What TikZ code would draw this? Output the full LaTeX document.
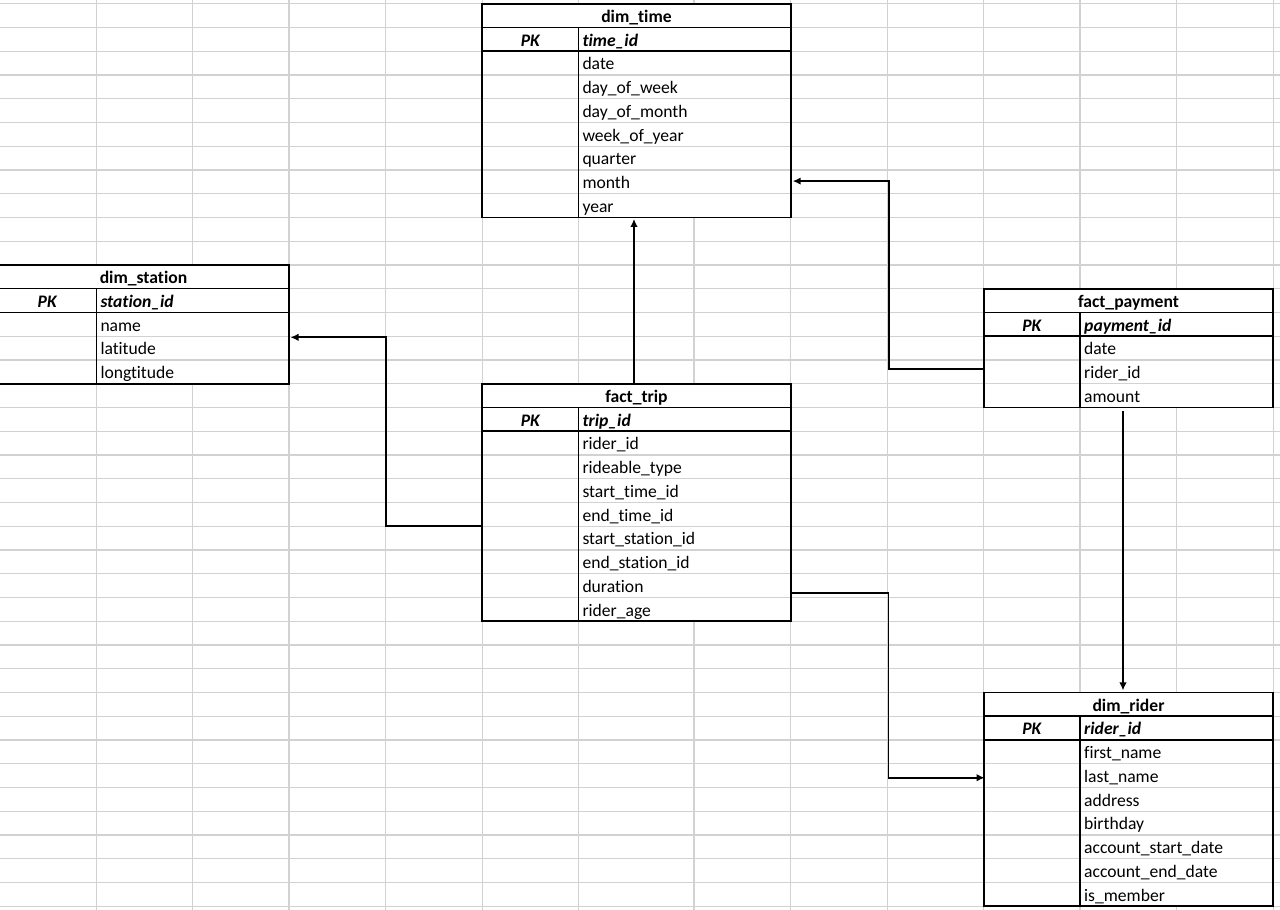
\documentclass[tikz,border=0pt]{standalone}
\usepackage{fontspec}
\setmainfont{Carlito}[Ligatures={NoCommon}]
\usetikzlibrary{arrows.meta}
\tikzset{
  gridln/.style={draw=gray!35, line width=1.3pt},
  tblbox/.style={draw=black, line width=1.9pt, fill=white, inner sep=0pt, outer sep=0pt, anchor=north west},
  tline/.style={black, line width=1.5pt},
  ttl/.style={anchor=base, inner sep=0pt, font=\fontsize{17.6}{20}\selectfont\bfseries},
  pkl/.style={anchor=base, inner sep=0pt, font=\fontsize{17.6}{20}\selectfont\bfseries\itshape},
  pkf/.style={anchor=base west, inner sep=0pt, font=\fontsize{17.6}{20}\selectfont\bfseries\itshape},
  fld/.style={anchor=base west, inner sep=0pt, font=\fontsize{17.6}{20}\selectfont},
  conn/.style={black, line width=1.9pt, -{Latex[length=8pt,width=7.5pt]}},
}
% #1 name, #2 x0, #3 x divider, #4 x1, #5 top row, #6 title, #7 key, #8 fields, #9 number of fields
\newcommand\ertab[9]{%
  \pgfmathsetmacro\ERya{3.7+23.75*#5}%
  \pgfmathsetmacro\ERyh{\ERya+23.75}%
  \pgfmathsetmacro\ERyp{\ERya+47.5}%
  \pgfmathsetmacro\ERyb{\ERya+23.75*(2+#9)}%
  \pgfmathsetmacro\ERw{#4-(#2)}%
  \pgfmathsetmacro\ERh{\ERyb-\ERya}%
  \pgfmathtruncatemacro\ERn{#9-1}%
  \node[tblbox, minimum width=\ERw pt, minimum height=\ERh pt] (#1) at (#2,\ERya) {};
  \foreach \k in {1,...,\ERn} \draw[gridln] (#2+1,{\ERyp+23.75*\k}) -- (#4-1,{\ERyp+23.75*\k});
  \draw[tline] (#2,\ERyh) -- (#4,\ERyh) (#2,\ERyp) -- (#4,\ERyp) (#3,\ERyh) -- (#3,\ERyb);
  \node[ttl] (#1-title) at ({(#2+#4)/2},\ERyh-5) {#6};
  \node[pkl] (#1-pk) at ({(#2+#3)/2},\ERyp-5) {PK};
  \node[pkf] (#1-key) at (#3+4,\ERyp-5) {#7};
  \foreach \f [count=\i] in {#8} \node[fld] (#1-f\i) at (#3+4,{\ERyp+23.75*\i-5}) {\f};
}
\begin{document}
\begin{tikzpicture}[x=1pt,y=-1pt]
\useasboundingbox (0,0) rectangle (1280,910);
\fill[white] (0,0) rectangle (1280,910);
% spreadsheet grid
\foreach \gx in {96.3,192.7,289,385.7,482.3,578.3,694,790.7,887.5,983.7,1080,1176.7,1273.3}
  \draw[gridln] (\gx,0) -- (\gx,910);
\foreach \k in {0,...,38}
  \draw[gridln] (0,{3.7+23.75*\k}) -- (1280,{3.7+23.75*\k});
% tables
\ertab{time}{482.3}{578.3}{790.7}{0}{dim\_time}{time\_id}{date,day\_of\_week,day\_of\_month,week\_of\_year,quarter,month,year}{7}
\ertab{station}{-2}{96.3}{289}{11}{dim\_station}{station\_id}{name,latitude,longtitude}{3}
\ertab{trip}{482.3}{578.3}{790.7}{16}{fact\_trip}{trip\_id}{rider\_id,rideable\_type,start\_time\_id,end\_time\_id,start\_station\_id,end\_station\_id,duration,rider\_age}{8}
\ertab{pay}{983.7}{1080}{1273.3}{12}{fact\_payment}{payment\_id}{date,rider\_id,amount}{3}
\ertab{rider}{983.7}{1080}{1273.3}{29}{dim\_rider}{rider\_id}{first\_name,last\_name,address,birthday,account\_start\_date,account\_end\_date,is\_member}{7}
% connectors
\draw[conn] ([xshift=-2.5pt]trip.north) -- ([xshift=-2.5pt,yshift=-1.5pt]time.south);
\draw[conn] ([yshift=-21.2pt]pay.west) -| ([xshift=98pt,yshift=-70.5pt]time.east) -- ([xshift=2pt,yshift=-70.5pt]time.east);
\draw[conn] ([yshift=-23.2pt]trip.west) -| ([xshift=96.7pt,yshift=-13pt]station.east) -- ([xshift=1.5pt,yshift=-13pt]station.east);
\draw[conn] ([yshift=-90.2pt]trip.east) -| ([xshift=-95.2pt,yshift=21.6pt]rider.west) -- ([xshift=1pt,yshift=21.6pt]rider.west);
\draw[conn, shorten <=4pt] ([xshift=-5.5pt]pay.south) -- ([xshift=-5.5pt,yshift=2pt]rider.north);
\end{tikzpicture}
\end{document}
